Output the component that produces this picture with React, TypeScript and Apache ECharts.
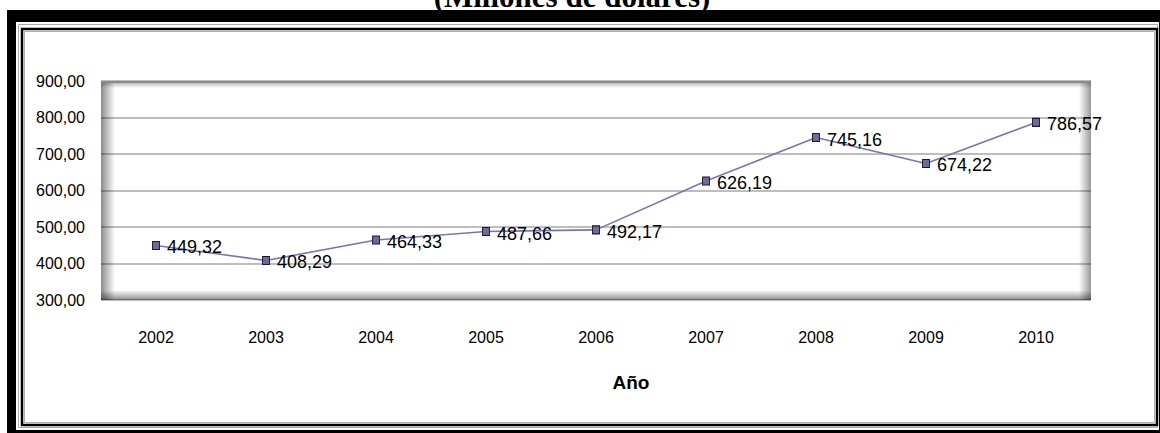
import React, { useEffect, useRef } from "react";
import * as echarts from "echarts";

const years = ["2002", "2003", "2004", "2005", "2006", "2007", "2008", "2009", "2010"];
const values = [449.32, 408.29, 464.33, 487.66, 492.17, 626.19, 745.16, 674.22, 786.57];
const yMin = 300;
const yMax = 900;
const yStep = 100;
const title = "(Millones de dólares)";
const xName = "Año";

const SANS = "'Liberation Sans', Arial, sans-serif";
const fmt = (v: number) => v.toFixed(2).replace(".", ",");

export default function App() {
  const ref = useRef<HTMLDivElement>(null);
  useEffect(() => {
    if (!ref.current) return;
    const chart = echarts.init(ref.current, undefined, { renderer: "svg" });
    const gL = 101, gT = 81, gR = 1091, gB = 300;
    chart.setOption({
      animation: false,
      backgroundColor: "#fff",
      grid: { left: gL, top: gT, right: 1160 - gR, bottom: 433 - gB, containLabel: false },
      xAxis: {
        type: "category",
        data: years,
        boundaryGap: true,
        axisLine: { show: false },
        axisTick: { show: false },
        axisLabel: { color: "#000", fontFamily: SANS, fontSize: 16, margin: 29 },
      },
      yAxis: {
        type: "value",
        min: yMin,
        max: yMax,
        interval: yStep,
        axisLine: { show: false },
        axisTick: { show: false },
        axisLabel: { color: "#000", fontFamily: SANS, fontSize: 16, margin: 16, formatter: (v: number) => fmt(v) },
        splitLine: { lineStyle: { color: "#bdbdbd", width: 2 } },
      },
      graphic: [
        // outer frame
        { type: "rect", z: 0, shape: { x: 7, y: 10, width: 1153, height: 423 }, style: { fill: "#000" } },
        { type: "rect", z: 0, shape: { x: 16, y: 22, width: 1143, height: 408 }, style: { fill: "#fff" } },
        { type: "rect", z: 0, shape: { x: 18.5, y: 24.5, width: 1139, height: 403 }, style: { fill: "none", stroke: "#aaa", lineWidth: 1 } },
        { type: "rect", z: 0, shape: { x: 22, y: 29, width: 1135, height: 396 }, style: { fill: "#fff", stroke: "#000", lineWidth: 2.5 } },
        { type: "rect", z: 0, shape: { x: 24.5, y: 31.5, width: 1130, height: 391 }, style: { fill: "none", stroke: "#b0b0b0", lineWidth: 1 } },
        // plot bevel shading
        {
          type: "rect", z: 1, silent: true,
          shape: { x: gL, y: gT, width: 14, height: gB - gT },
          style: { fill: new echarts.graphic.LinearGradient(0, 0, 1, 0, [
            { offset: 0, color: "rgba(0,0,0,0.45)" },
            { offset: 1, color: "rgba(0,0,0,0)" },
          ]) },
        },
        {
          type: "rect", z: 1, silent: true,
          shape: { x: gR - 12, y: gT, width: 12, height: gB - gT },
          style: { fill: new echarts.graphic.LinearGradient(0, 0, 1, 0, [
            { offset: 0, color: "rgba(0,0,0,0)" },
            { offset: 1, color: "rgba(0,0,0,0.4)" },
          ]) },
        },
        {
          type: "rect", z: 1, silent: true,
          shape: { x: gL, y: gB - 10, width: gR - gL, height: 10 },
          style: { fill: new echarts.graphic.LinearGradient(0, 0, 0, 1, [
            { offset: 0, color: "rgba(0,0,0,0)" },
            { offset: 1, color: "rgba(0,0,0,0.45)" },
          ]) },
        },
        {
          type: "rect", z: 1, silent: true,
          shape: { x: gL, y: gT, width: gR - gL, height: 7 },
          style: { fill: new echarts.graphic.LinearGradient(0, 0, 0, 1, [
            { offset: 0, color: "rgba(0,0,0,0.35)" },
            { offset: 1, color: "rgba(0,0,0,0)" },
          ]) },
        },
        { type: "line", z: 1, silent: true, shape: { x1: gL, y1: gT + 1, x2: gR, y2: gT + 1 }, style: { stroke: "#8a8a8a", lineWidth: 2 } },
        // title (cut off at top, as in the reference)
        {
          type: "text", z: 5, x: 572, y: 12,
          style: { text: title, font: "bold 31px 'Liberation Serif', 'Times New Roman', serif", fill: "#000", align: "center", verticalAlign: "bottom" },
        },
        // x axis name
        {
          type: "text", z: 5, x: 631, y: 382,
          style: { text: xName, font: "bold 19px " + SANS, fill: "#000", align: "center", verticalAlign: "middle" },
        },
      ],
      series: [
        {
          type: "line",
          data: values,
          z: 3,
          lineStyle: { color: "#7b74b2", width: 1.6 },
          symbol: "rect",
          symbolSize: [7, 8],
          itemStyle: { color: "#6c6c9c", borderColor: "#1a1a2a", borderWidth: 1 },
          label: {
            show: true,
            position: "right",
            distance: 7,
            offset: [0, 2],
            color: "#000",
            fontFamily: SANS,
            fontSize: 18,
            formatter: (p: any) => fmt(p.value),
          },
        },
      ],
    });
    return () => chart.dispose();
  }, []);
  return <div ref={ref} style={{ width: 1160, height: 433, position: "absolute", left: 0, top: 0 }} />;
}
